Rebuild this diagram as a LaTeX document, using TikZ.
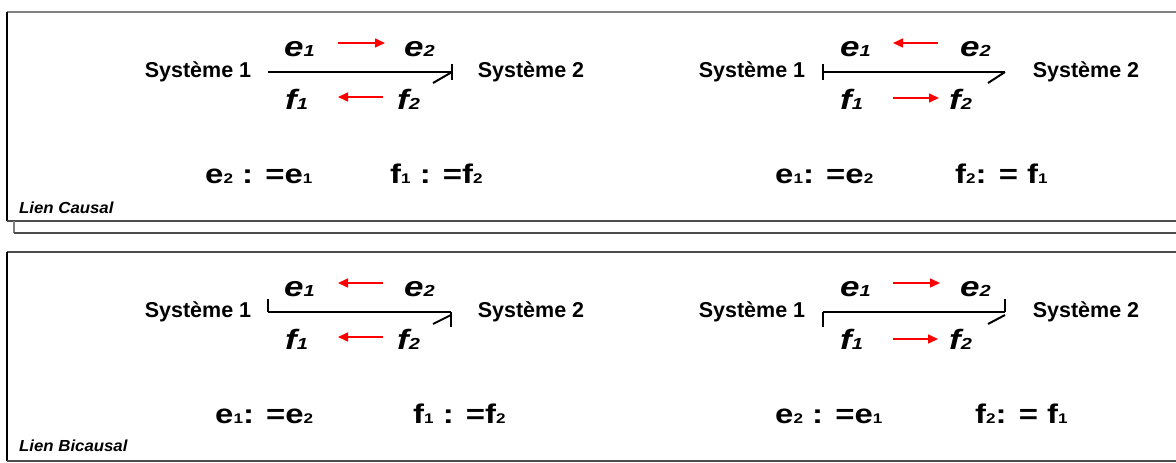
\documentclass[tikz,border=0pt]{standalone}
\usepackage{fontspec}
\usepackage{graphicx}
\setmainfont{Liberation Sans}
\usetikzlibrary{arrows.meta}
\newcommand\subd[1]{{\fontsize{14}{14}\selectfont\bfseries #1}}
\newcommand\subi[1]{{\fontsize{16}{16}\selectfont #1}}
\newcommand\eqtxt[1]{\scalebox{1.22}[1]{\fontsize{27}{27}\selectfont\bfseries #1}}
\newcommand\varl[2]{\scalebox{1.25}[1]{\fontsize{28}{28}\selectfont\bfseries\itshape #1\subi{#2}}}
\newcommand\lien[1]{\scalebox{1.05}[1]{\fontsize{16}{16}\selectfont\bfseries\itshape #1}}
\begin{document}
\begin{tikzpicture}[x=1pt,y=-1pt,
  sys/.style={font=\fontsize{21.5}{21.5}\selectfont\bfseries, inner sep=0pt, anchor=center},
  lbl/.style={inner sep=0pt, anchor=base west},
  bond/.style={line width=2pt, black},
  flow/.style={red, line width=1.6pt, -{Triangle[length=10pt,width=9pt]}},
  frameleft/.style={black, line width=1.4pt},
  frametop/.style={gray, line width=1.4pt},
  framebot/.style={black!70, line width=1.4pt}]
\useasboundingbox (0,0) rectangle (1176,463);
% frames
\draw[frametop] (7,12) -- (1180,12);
\draw[frameleft] (7,12) -- (7,221);
\draw[framebot] (7,221) -- (1180,221);
\draw[gray, line width=1.2pt] (14,221) -- (14,233);
\draw[framebot] (14,233) -- (1180,233);
\draw[framebot] (7,252) -- (1180,252);
\draw[frameleft] (7,252) -- (7,461);
\draw[framebot] (7,461) -- (1180,461);
\node[lbl] (lc) at (19,213) {\lien{Lien Causal}};
\node[lbl] (lb) at (19,451) {\lien{Lien Bicausal}};

% ===== Panel 1 (top left)
\node[sys] (s1a) at (198,72) {Système 1};
\node[sys] (s2a) at (531,72) {Système 2};
\coordinate (a1) at (268,72); \coordinate (a2) at (452,72);
\draw[bond] (a1) -- (a2);
\draw[bond] ([yshift=8pt]a2) -- ([yshift=-8pt]a2);
\draw[bond] (a2) -- ++(-19,11);
\node[lbl] (e1a) at (284,56) {\varl{e}{1}};
\node[lbl] (e2a) at (404,56) {\varl{e}{2}};
\node[lbl] (f1a) at (285,109) {\varl{f}{1}};
\node[lbl] (f2a) at (397,109) {\varl{f}{2}};
\coordinate (ea1) at (338,43); \coordinate (ea2) at (385,43);
\coordinate (fa1) at (338,97); \coordinate (fa2) at (383,97);
\draw[flow] (ea1) -- (ea2);
\draw[flow] (fa2) -- (fa1);
\node[lbl] (qa1) at (205,183) {\eqtxt{e\subd{2} : =e\subd{1}}};
\node[lbl] (qa2) at (390,183) {\eqtxt{f\subd{1} : =f\subd{2}}};

% ===== Panel 2 (top right)
\node[sys] (s1b) at (752,72) {Système 1};
\node[sys] (s2b) at (1086,72) {Système 2};
\coordinate (b1) at (823,72); \coordinate (b2) at (1005,72);
\draw[bond] (b1) -- (b2);
\draw[bond] ([yshift=8pt]b1) -- ([yshift=-8pt]b1);
\draw[bond] (b2) -- ++(-17,11);
\node[lbl] (e1b) at (840,56) {\varl{e}{1}};
\node[lbl] (e2b) at (960,56) {\varl{e}{2}};
\node[lbl] (f1b) at (840,109) {\varl{f}{1}};
\node[lbl] (f2b) at (949,109) {\varl{f}{2}};
\coordinate (eb1) at (893,43); \coordinate (eb2) at (938,43);
\coordinate (fb1) at (893,98); \coordinate (fb2) at (939,98);
\draw[flow] (eb2) -- (eb1);
\draw[flow] (fb1) -- (fb2);
\node[lbl] (qb1) at (775,183) {\eqtxt{e\subd{1}: =e\subd{2}}};
\node[lbl] (qb2) at (955,183) {\eqtxt{f\subd{2}: = f\subd{1}}};

% ===== Panel 3 (bottom left)
\node[sys] (s1c) at (198,312) {Système 1};
\node[sys] (s2c) at (531,312) {Système 2};
\coordinate (c1) at (268,312); \coordinate (c2) at (451,312);
\draw[bond] (c1) -- (c2);
\draw[bond] (c1) -- ([yshift=13pt]c1);
\draw[bond] (c2) -- ([yshift=-15pt]c2);
\draw[bond] ([yshift=-3pt]c2) -- ++(-18,9);
\node[lbl] (e1c) at (284,296) {\varl{e}{1}};
\node[lbl] (e2c) at (404,296) {\varl{e}{2}};
\node[lbl] (f1c) at (285,349) {\varl{f}{1}};
\node[lbl] (f2c) at (397,349) {\varl{f}{2}};
\coordinate (ec1) at (338,283); \coordinate (ec2) at (383,283);
\coordinate (fc1) at (338,337); \coordinate (fc2) at (383,337);
\draw[flow] (ec2) -- (ec1);
\draw[flow] (fc2) -- (fc1);
\node[lbl] (qc1) at (215,423) {\eqtxt{e\subd{1}: =e\subd{2}}};
\node[lbl] (qc2) at (413,423) {\eqtxt{f\subd{1} : =f\subd{2}}};

% ===== Panel 4 (bottom right)
\node[sys] (s1d) at (752,312) {Système 1};
\node[sys] (s2d) at (1086,312) {Système 2};
\coordinate (d1) at (823,312); \coordinate (d2) at (1005,312);
\draw[bond] (d1) -- (d2);
\draw[bond] (d1) -- ([yshift=-15pt]d1);
\draw[bond] (d2) -- ([yshift=13pt]d2);
\draw[bond] ([yshift=-3pt]d2) -- ++(-17,9);
\node[lbl] (e1d) at (840,296) {\varl{e}{1}};
\node[lbl] (e2d) at (960,296) {\varl{e}{2}};
\node[lbl] (f1d) at (840,349) {\varl{f}{1}};
\node[lbl] (f2d) at (949,349) {\varl{f}{2}};
\coordinate (ed1) at (893,283); \coordinate (ed2) at (940,283);
\coordinate (fd1) at (893,339); \coordinate (fd2) at (938,339);
\draw[flow] (ed1) -- (ed2);
\draw[flow] (fd1) -- (fd2);
\node[lbl] (qd1) at (775,423) {\eqtxt{e\subd{2} : =e\subd{1}}};
\node[lbl] (qd2) at (975,423) {\eqtxt{f\subd{2}: = f\subd{1}}};
\end{tikzpicture}
\end{document}
